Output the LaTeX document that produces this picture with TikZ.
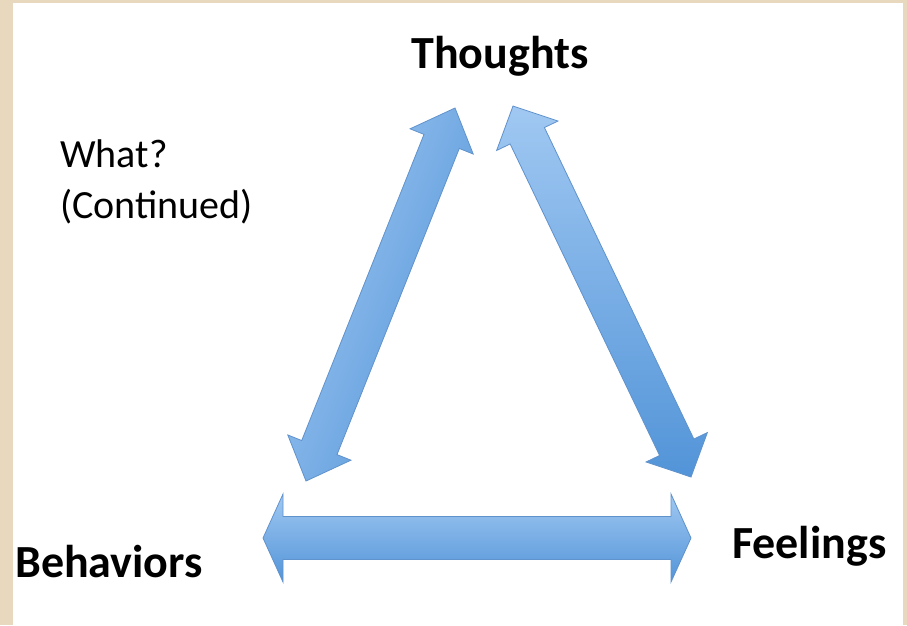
\documentclass[tikz,border=0pt]{standalone}
\usepackage{fontspec}
\setmainfont{Carlito}
\usetikzlibrary{calc}
\definecolor{framebeige}{RGB}{231,216,190}
\definecolor{arrowlight}{RGB}{160,200,242}
\definecolor{arrowdark}{RGB}{82,148,216}
\definecolor{arrowedge}{RGB}{96,146,204}
\tikzset{
  blockarrow/.style={draw=arrowedge, line width=0.8pt, line join=miter},
  bigword/.style={font=\fontsize{46}{50}\selectfont\bfseries, inner sep=0pt},
}
% #1 shading, #2 and #3 the two tips, #4 half shaft, #5 half head, #6 head length
\newcommand\bothways[6][]{%
  \coordinate (#2h) at ($(#2)!#6!(#3)$);
  \coordinate (#3h) at ($(#3)!#6!(#2)$);
  \draw[blockarrow,#1] (#2) -- ($(#2h)!#5!90:(#3)$) -- ($(#2h)!#4!90:(#3)$)
    -- ($(#3h)!#4!-90:(#2)$) -- ($(#3h)!#5!-90:(#2)$) -- (#3)
    -- ($(#3h)!#5!90:(#2)$) -- ($(#3h)!#4!90:(#2)$)
    -- ($(#2h)!#4!-90:(#3)$) -- ($(#2h)!#5!-90:(#3)$) -- cycle;
}
\begin{document}
\begin{tikzpicture}[x=1pt,y=-1pt]
  \fill[framebeige] (0,0) rectangle (907,625);
  \fill[white] (13,3) rectangle (903,625);
  \node[bigword, anchor=base] (thoughts) at (500,68) {Thoughts};
  \node[bigword, anchor=base west] (behaviors) at (15,577) {Behaviors};
  \node[bigword, anchor=base west] (feelings) at (732,558) {Feelings};
  \node[font=\fontsize{40}{51}\selectfont, align=left, anchor=north west, inner sep=0pt] (what) at (60,140) {What?\\(Continued)};
  % arrow tips
  \coordinate (bl) at (306,481);
  \coordinate (tl) at (455,108);
  \coordinate (tr) at (513,106);
  \coordinate (br) at (691,477);
  \coordinate (hl) at (263,538);
  \coordinate (hr) at (691,538);
  \bothways[top color=arrowlight, bottom color=arrowdark, shading angle=68]{bl}{tl}{19pt}{34pt}{36pt}
  \bothways[top color=arrowlight, bottom color=arrowdark]{tr}{br}{19pt}{34pt}{33pt}
  \bothways[top color=arrowlight, bottom color=arrowdark]{hl}{hr}{21.5pt}{44pt}{20pt}
\end{tikzpicture}
\end{document}
